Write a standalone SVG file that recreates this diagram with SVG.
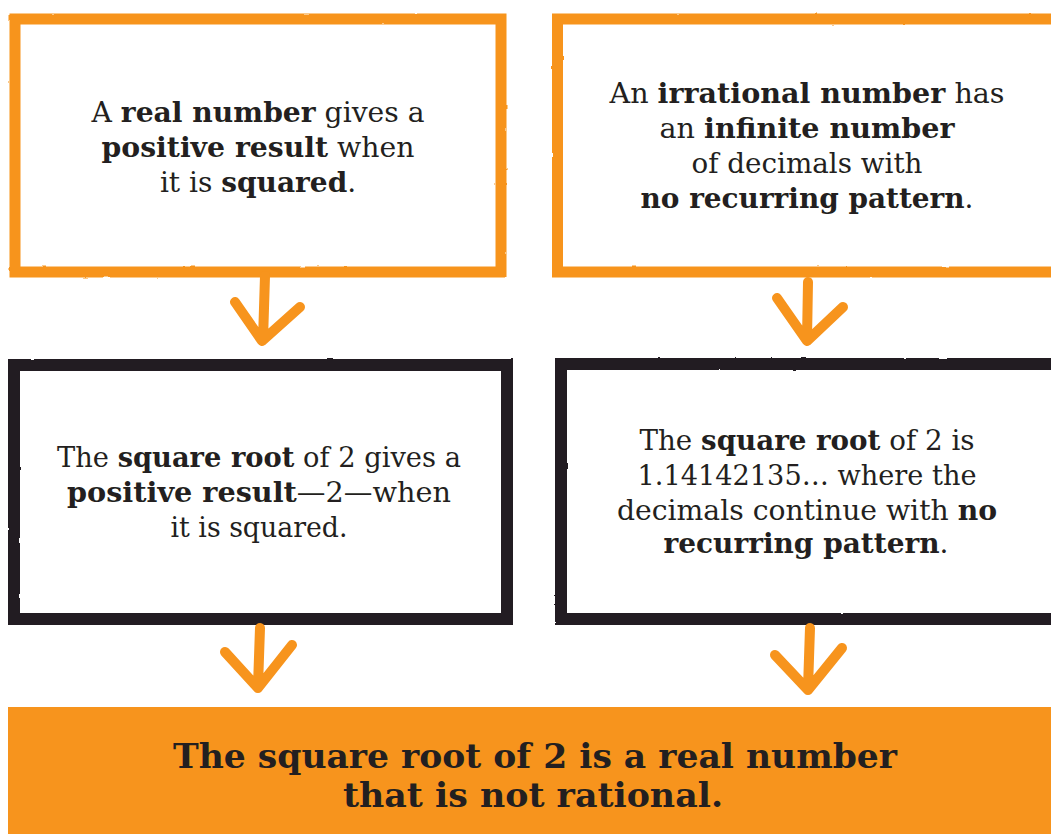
<svg xmlns="http://www.w3.org/2000/svg" width="1051" height="834" viewBox="0 0 1051 834">
  <defs>
    <filter id="rough" x="-5%" y="-5%" width="110%" height="110%">
      <feTurbulence type="fractalNoise" baseFrequency="0.08" numOctaves="2" seed="3" result="n"/>
      <feDisplacementMap in="SourceGraphic" in2="n" scale="1.8" xChannelSelector="R" yChannelSelector="G"/>
    </filter>
  </defs>
  <style>
    .obox { fill: #ffffff; stroke: #F7941D; stroke-width: 11; }
    .kbox { fill: #ffffff; stroke: #231F20; stroke-width: 12; }
    .arrow { fill: none; stroke: #F7941D; stroke-width: 10; stroke-linecap: round; stroke-linejoin: round; }
    .t { font-family: "DejaVu Serif", "Liberation Serif", serif; font-size: 28px; fill: #231F20; text-anchor: middle; }
    .b { font-weight: bold; }
    .final { font-family: "DejaVu Serif", "Liberation Serif", serif; font-weight: bold; font-size: 34px; fill: #231F20; text-anchor: middle; }
  </style>
  <rect width="1051" height="834" fill="#ffffff"/>

  <g id="node-real-number">
    <rect class="obox" x="15" y="19" width="486" height="253" filter="url(#rough)"/>
    <text class="t" x="258" y="122" textLength="333" lengthAdjust="spacingAndGlyphs">A <tspan class="b">real number</tspan> gives a</text>
    <text class="t" x="258" y="157" textLength="313" lengthAdjust="spacingAndGlyphs"><tspan class="b">positive result</tspan> when</text>
    <text class="t" x="258" y="192">it is <tspan class="b">squared</tspan>.</text>
  </g>

  <g id="node-irrational">
    <rect class="obox" x="557.5" y="19" width="520" height="253" filter="url(#rough)"/>
    <text class="t" x="807" y="103" textLength="395" lengthAdjust="spacingAndGlyphs">An <tspan class="b">irrational number</tspan> has</text>
    <text class="t" x="807" y="138" textLength="295" lengthAdjust="spacingAndGlyphs">an <tspan class="b">infinite number</tspan></text>
    <text class="t" x="807" y="173" textLength="231" lengthAdjust="spacingAndGlyphs">of decimals with</text>
    <text class="t" x="807" y="208" textLength="333" lengthAdjust="spacingAndGlyphs"><tspan class="b">no recurring pattern</tspan>.</text>
  </g>

  <g id="node-sqrt-positive">
    <rect class="kbox" x="14" y="365" width="493" height="254" filter="url(#rough)"/>
    <text class="t" x="259" y="467" textLength="404" lengthAdjust="spacingAndGlyphs">The <tspan class="b">square root</tspan> of 2 gives a</text>
    <text class="t" x="259" y="502" textLength="384" lengthAdjust="spacingAndGlyphs"><tspan class="b">positive result</tspan>—2—when</text>
    <text class="t" x="259" y="537" textLength="177" lengthAdjust="spacingAndGlyphs">it is squared.</text>
  </g>

  <g id="node-sqrt-decimals">
    <rect class="kbox" x="561" y="364" width="520" height="255" filter="url(#rough)"/>
    <text class="t" x="807" y="450" textLength="335" lengthAdjust="spacingAndGlyphs">The <tspan class="b">square root</tspan> of 2 is</text>
    <text class="t" x="807" y="485" textLength="339" lengthAdjust="spacingAndGlyphs">1.14142135… where the</text>
    <text class="t" x="807" y="520" textLength="380" lengthAdjust="spacingAndGlyphs">decimals continue with <tspan class="b">no</tspan></text>
    <text class="t" x="806" y="553" textLength="285" lengthAdjust="spacingAndGlyphs"><tspan class="b">recurring pattern</tspan>.</text>
  </g>

  <g id="connectors">
    <path class="arrow" d="M265 276 L263 340 M235 302 L262 341 L300 307"/>
    <path class="arrow" d="M808 282 L807 339 M777 298 L807 341 L843 307"/>
    <path class="arrow" d="M260 628 L258 686 M225 652 L258 688 L292 645"/>
    <path class="arrow" d="M810 628 L808 688 M775 655 L808 690 L842 648"/>
  </g>

  <g id="node-conclusion">
    <rect x="8" y="707" width="1043" height="127" fill="#F7941D"/>
    <text class="final" x="535" y="768" textLength="724" lengthAdjust="spacingAndGlyphs">The square root of 2 is a real number</text>
    <text class="final" x="533" y="807" textLength="380" lengthAdjust="spacingAndGlyphs">that is not rational.</text>
  </g>
</svg>
